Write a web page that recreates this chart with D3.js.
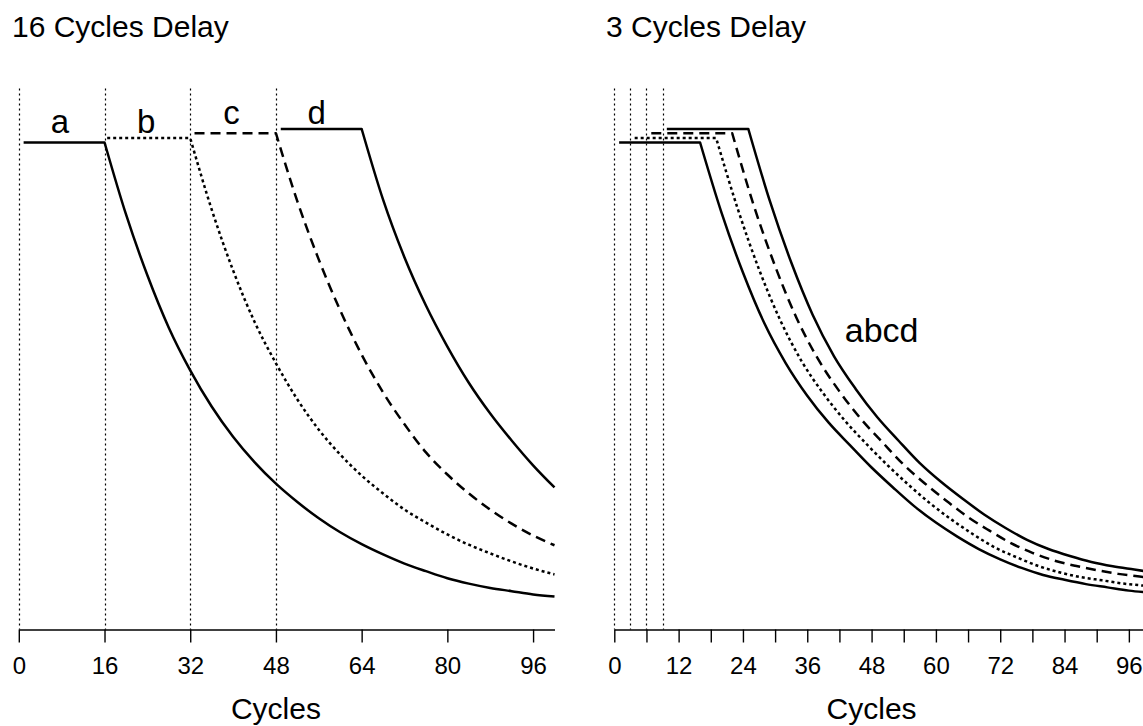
<!DOCTYPE html>
<html><head><meta charset="utf-8">
<script src="https://cdn.jsdelivr.net/npm/d3@7/dist/d3.min.js"></script>
<style>
body{margin:0;background:#fff}
svg{display:block;background:#fff}
text{font-family:"Liberation Sans",Arial,Helvetica,sans-serif;fill:#000}
</style>
</head><body>
<svg id="chart" width="1143" height="726"></svg>
<script>
// ---------- data ----------
const panelTitles = ["16 Cycles Delay", "3 Cycles Delay"];
const axisTitle = "Cycles";

const leftTicks = [0, 16, 32, 48, 64, 80, 96];
const leftTickLabels = [0, 16, 32, 48, 64, 80, 96];
const leftGuides = [0, 16, 32, 48];

const rightTicks = [0, 6, 12, 18, 24, 30, 36, 42, 48, 54, 60, 66, 72, 78, 84, 90, 96];
const rightTickLabels = [0, 12, 24, 36, 48, 60, 72, 84, 96];
const rightGuides = [0, 3, 6, 9];

// left panel (16 cycles delay)
const leftA_cycles = [0.9, 16, 20, 24, 28, 32, 36, 40, 44, 48, 52, 56, 60, 64, 68, 72, 76, 80, 84, 88, 92, 96, 100];
const leftA_values = [90.2, 90.2, 76.9, 65.6, 55.9, 48.0, 41.3, 35.7, 31.0, 27.0, 23.6, 20.6, 18.0, 15.8, 13.9, 12.2, 10.8, 9.5, 8.5, 7.7, 7.1, 6.5, 6.1];
const leftB_cycles = [16.5, 32, 36, 40, 44, 48, 52, 56, 60, 64, 68, 72, 76, 80, 84, 88, 92, 96, 100];
const leftB_values = [91.0, 91.0, 77.8, 66.5, 57.0, 49.3, 42.6, 37.0, 32.4, 28.5, 25.2, 22.2, 19.8, 17.6, 15.7, 14.1, 12.6, 11.3, 10.2];
const leftC_cycles = [32.8, 48, 52, 56, 60, 64, 68, 72, 76, 80, 84, 88, 92, 96, 100];
const leftC_values = [91.9, 91.9, 79.3, 68.5, 59.1, 50.9, 43.9, 38.0, 32.8, 28.7, 25.2, 22.2, 19.6, 17.4, 15.6];
const leftD_cycles = [48.9, 64, 68, 72, 76, 80, 84, 88, 92, 96, 100];
const leftD_values = [92.7, 92.7, 79.6, 68.9, 60.0, 52.4, 45.7, 40.0, 35.0, 30.4, 26.3];

// right panel (3 cycles delay)
const rightA_cycles = [0.9, 16, 20, 24, 28, 32, 36, 40, 44, 48, 52, 56, 60, 64, 68, 72, 76, 80, 84, 88, 92, 96, 100];
const rightA_values = [90.2, 90.2, 77.2, 66.1, 56.7, 49.3, 43.3, 38.3, 34.1, 30.0, 26.3, 22.8, 19.8, 17.2, 14.9, 13.0, 11.4, 10.1, 9.2, 8.4, 7.8, 7.2, 6.8];
const rightB_cycles = [3.8, 19, 23, 27, 31, 35, 39, 43, 47, 51, 55, 59, 63, 67, 71, 75, 79, 83, 87, 91, 95, 99, 101];
const rightB_values = [91.0, 91.0, 78.0, 66.7, 57.2, 49.6, 43.7, 38.7, 34.4, 30.4, 26.7, 23.3, 20.3, 17.6, 15.2, 13.4, 11.8, 10.6, 9.7, 9.1, 8.5, 8.1, 7.9];
const rightC_cycles = [6.9, 22, 26, 30, 34, 38, 42, 46, 50, 54, 58, 62, 66, 70, 74, 78, 82, 86, 90, 94, 98, 101];
const rightC_values = [91.9, 91.9, 78.6, 67.3, 57.7, 50.1, 44.1, 39.0, 34.7, 30.5, 27.0, 23.8, 20.8, 18.3, 16.0, 14.2, 12.8, 11.8, 11.0, 10.3, 9.8, 9.4];
const rightD_cycles = [9.8, 25, 29, 33, 37, 41, 45, 49, 53, 57, 61, 65, 69, 73, 77, 81, 85, 89, 93, 97, 101];
const rightD_values = [92.7, 92.7, 79.4, 68.0, 58.3, 50.6, 44.6, 39.4, 35.0, 30.8, 27.3, 24.2, 21.3, 18.8, 16.6, 14.9, 13.6, 12.5, 11.7, 11.1, 10.5];

const leftLabels = [
  {text: "a", cycle: 7.7, value: 91.9},
  {text: "b", cycle: 23.8, value: 92.0},
  {text: "c", cycle: 39.7, value: 93.7},
  {text: "d", cycle: 55.6, value: 93.7}
];
const rightLabel = {text: "abcd", cycle: 43.0, value: 53.2};

// ---------- drawing ----------
const svg = d3.select("#chart");
svg.append("rect").attr("width", 1143).attr("height", 726).attr("fill", "#fff");

const y = d3.scaleLinear().domain([0, 100]).range([629.5, 89.5]);
const styles = {
  solid: null,
  dotted: "3,3",
  dashed: "10,6"
};

function drawPanel(cfg) {
  const x = d3.scaleLinear().domain([0, 100]).range(cfg.range);
  const g = svg.append("g");

  // guides
  g.selectAll("line.guide").data(cfg.guides).join("line")
    .attr("class", "guide")
    .attr("x1", d => Math.round(x(d)) + 0.5).attr("x2", d => Math.round(x(d)) + 0.5)
    .attr("y1", y(100) - 1).attr("y2", y(0))
    .attr("stroke", "#000").attr("stroke-width", 1.2)
    .attr("stroke-dasharray", "2,3");

  // axis
  const axis = d3.axisBottom(x)
    .tickValues(cfg.ticks)
    .tickSize(13)
    .tickSizeOuter(0)
    .tickPadding(14)
    .tickFormat(d => cfg.tickLabels.includes(d) ? String(d) : "");
  const ag = g.append("g").attr("transform", `translate(0,${y(0)})`).call(axis);
  ag.select(".domain").attr("stroke", "#000").attr("stroke-width", 1.4);
  ag.selectAll(".tick line").attr("stroke", "#000").attr("stroke-width", 1.4);
  ag.selectAll(".tick text").attr("font-size", 24).attr("font-family", '"Liberation Sans",Arial,sans-serif').attr("fill", "#000");

  // axis title
  g.append("text").attr("x", x(48)).attr("y", 719)
    .attr("text-anchor", "middle").attr("font-size", 30).text(axisTitle);

  // panel title
  g.append("text").attr("x", cfg.titleX).attr("y", 37)
    .attr("font-size", 30).text(cfg.title);

  // series
  const flat = d3.line().x(d => x(d[0])).y(d => y(d[1]));
  const decay = d3.line().x(d => x(d[0])).y(d => y(d[1])).curve(d3.curveMonotoneX);
  cfg.series.forEach(s => {
    const pts = s.cycles.map((c, i) => [c, s.values[i]]);
    const path = flat(pts.slice(0, 2)) + decay(pts.slice(1)).replace(/^M/, "L");
    g.append("path").attr("d", path)
      .attr("fill", "none").attr("stroke", "#000").attr("stroke-width", 2.5)
      .attr("stroke-linejoin", "round")
      .attr("stroke-dasharray", styles[s.style]);
  });

  // labels
  cfg.labels.forEach(l => {
    g.append("text").attr("x", x(l.cycle)).attr("y", y(l.value))
      .attr("text-anchor", l.anchor || "middle").attr("font-size", l.size || 33).text(l.text);
  });
}

drawPanel({
  range: [18.8, 554.5],
  guides: leftGuides,
  ticks: leftTicks,
  tickLabels: leftTickLabels,
  title: panelTitles[0],
  titleX: 12,
  series: [
    {cycles: leftA_cycles, values: leftA_values, style: "solid"},
    {cycles: leftB_cycles, values: leftB_values, style: "dotted"},
    {cycles: leftC_cycles, values: leftC_values, style: "dashed"},
    {cycles: leftD_cycles, values: leftD_values, style: "solid"}
  ],
  labels: leftLabels
});

drawPanel({
  range: [614.3, 1150.3],
  guides: rightGuides,
  ticks: rightTicks,
  tickLabels: rightTickLabels,
  title: panelTitles[1],
  titleX: 606,
  series: [
    {cycles: rightA_cycles, values: rightA_values, style: "solid"},
    {cycles: rightB_cycles, values: rightB_values, style: "dotted"},
    {cycles: rightC_cycles, values: rightC_values, style: "dashed"},
    {cycles: rightD_cycles, values: rightD_values, style: "solid"}
  ],
  labels: [{text: rightLabel.text, cycle: rightLabel.cycle, value: rightLabel.value, anchor: "start", size: 34}]
});
</script>
</body></html>
